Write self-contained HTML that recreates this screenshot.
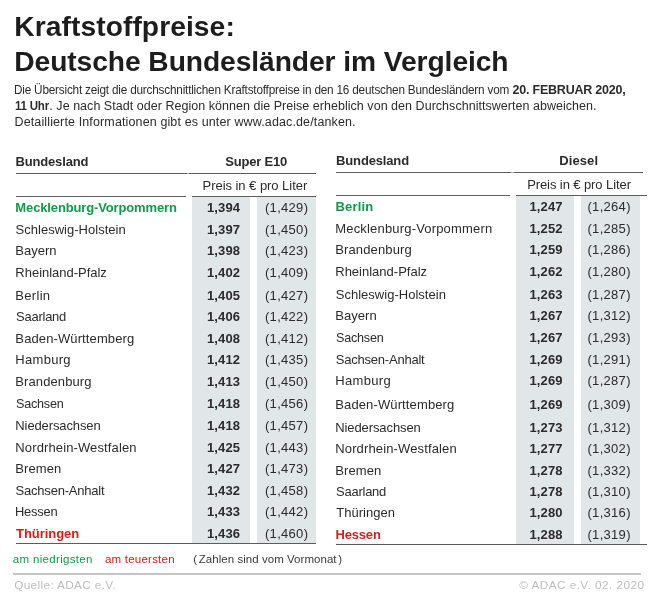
<!DOCTYPE html><html><head><meta charset="utf-8"><title>Kraftstoffpreise</title><style>
html,body{margin:0;padding:0;background:#fff}
body{width:650px;height:596px;position:relative;overflow:hidden;font-family:"Liberation Sans",sans-serif;will-change:transform}
s{position:absolute;white-space:nowrap;line-height:20px;text-decoration:none;display:block}
i{position:absolute;display:block}
b{font-weight:700}
</style></head><body>
<i style="left:16px;top:173px;width:171px;height:1px;background:#5c5c5c"></i>
<i style="left:189px;top:173px;width:127px;height:1px;background:#5c5c5c"></i>
<i style="left:187px;top:173px;width:2px;height:1px;background:#b0b0b0"></i>
<i style="left:16px;top:196px;width:169.5px;height:1px;background:#5c5c5c"></i>
<i style="left:192px;top:196px;width:124px;height:1px;background:#5c5c5c"></i>
<i style="left:192px;top:197px;width:57.7px;height:346px;background:#e1e6e9"></i>
<i style="left:256.9px;top:197px;width:59.1px;height:346px;background:#e1e6e9"></i>
<i style="left:15.5px;top:542.8px;width:300px;height:1.4px;background:#5c5c5c"></i>
<i style="left:336px;top:172px;width:175px;height:1px;background:#5c5c5c"></i>
<i style="left:513.5px;top:172px;width:129px;height:1px;background:#5c5c5c"></i>
<i style="left:511px;top:172px;width:2.5px;height:1px;background:#b0b0b0"></i>
<i style="left:336px;top:195px;width:174px;height:1px;background:#5c5c5c"></i>
<i style="left:515.6px;top:195px;width:131px;height:1px;background:#5c5c5c"></i>
<i style="left:515.5px;top:196px;width:58.4px;height:348px;background:#e1e6e9"></i>
<i style="left:580.8px;top:196px;width:59.2px;height:348px;background:#e1e6e9"></i>
<i style="left:336px;top:543.8px;width:310.5px;height:1.4px;background:#5c5c5c"></i>
<i style="left:13.2px;top:573.0px;width:627.6px;height:2.2px;background:#c4c4c4"></i>
<s id="t1" style="top:16.00px;font-size:28.2px;color:#1d1d1d;font-weight:700;letter-spacing:0.078px;left:14.25px;">Kraftstoffpreise:</s>
<s id="t2" style="top:51.00px;font-size:28.2px;color:#1d1d1d;font-weight:700;letter-spacing:-0.068px;left:14.25px;">Deutsche Bundesländer im Vergleich</s>
<s id="p1a" style="top:80.00px;font-size:12.5px;color:#2b2b2b;transform:scaleX(0.9426);transform-origin:0 0;letter-spacing:-0.220px;left:14.00px;">Die Übersicht zeigt die durchschnittlichen Kraftstoffpreise in den 16 deutschen Bundesländern vom</s>
<s id="p1b" style="top:80.00px;font-size:12.5px;color:#2b2b2b;font-weight:700;letter-spacing:-0.220px;left:512.55px;">20. FEBRUAR 2020,</s>
<s id="p2a" style="top:96.00px;font-size:12.5px;color:#2b2b2b;transform:scaleX(0.9209);transform-origin:0 0;font-weight:700;letter-spacing:-0.220px;left:14.65px;">11 Uhr</s>
<s id="p2b" style="top:96.00px;font-size:12.5px;color:#2b2b2b;letter-spacing:0.033px;left:49.35px;">. Je nach Stadt oder Region können die Preise erheblich von den Durchschnittswerten abweichen.</s>
<s id="p3" style="top:112.00px;font-size:12.5px;color:#2b2b2b;letter-spacing:0.128px;left:14.50px;">Detaillierte Informationen gibt es unter www.adac.de/tanken.</s>
<s id="hl1" style="top:152.00px;font-size:13px;color:#2b2b2b;font-weight:700;letter-spacing:-0.145px;left:15.40px;">Bundesland</s>
<s id="hl2" style="top:152.00px;font-size:13px;color:#2b2b2b;font-weight:700;letter-spacing:-0.220px;left:225.30px;">Super E10</s>
<s id="hl3" style="top:176.00px;font-size:13px;color:#2b2b2b;letter-spacing:-0.043px;left:202.55px;">Preis in € pro Liter</s>
<s id="hr1" style="top:151.00px;font-size:13px;color:#2b2b2b;font-weight:700;letter-spacing:-0.155px;left:336.10px;">Bundesland</s>
<s id="hr2" style="top:151.00px;font-size:13px;color:#2b2b2b;font-weight:700;letter-spacing:0.090px;left:559.30px;">Diesel</s>
<s id="hr3" style="top:175.00px;font-size:13px;color:#2b2b2b;letter-spacing:-0.088px;left:527.15px;">Preis in € pro Liter</s>
<s id="Ln0" style="top:198.00px;font-size:13px;color:#15964a;font-weight:700;letter-spacing:-0.137px;left:15.35px;">Mecklenburg-Vorpommern</s>
<s id="La0" style="top:198.00px;font-size:13px;color:#2b2b2b;font-weight:700;letter-spacing:0.100px;left:173.55px;width:100px;text-align:center;">1,394</s>
<s id="Lb0" style="top:198.00px;font-size:13px;color:#2b2b2b;letter-spacing:0.300px;left:236.65px;width:100px;text-align:center;">(1,429)</s>
<s id="Ln1" style="top:220.00px;font-size:13px;color:#2b2b2b;letter-spacing:0.017px;left:15.60px;">Schleswig-Holstein</s>
<s id="La1" style="top:220.00px;font-size:13px;color:#2b2b2b;font-weight:700;letter-spacing:0.100px;left:173.55px;width:100px;text-align:center;">1,397</s>
<s id="Lb1" style="top:220.00px;font-size:13px;color:#2b2b2b;letter-spacing:0.300px;left:236.65px;width:100px;text-align:center;">(1,450)</s>
<s id="Ln2" style="top:241.00px;font-size:13px;color:#2b2b2b;left:15.35px;">Bayern</s>
<s id="La2" style="top:241.00px;font-size:13px;color:#2b2b2b;font-weight:700;letter-spacing:0.100px;left:173.55px;width:100px;text-align:center;">1,398</s>
<s id="Lb2" style="top:241.00px;font-size:13px;color:#2b2b2b;letter-spacing:0.300px;left:236.65px;width:100px;text-align:center;">(1,423)</s>
<s id="Ln3" style="top:263.00px;font-size:13px;color:#2b2b2b;letter-spacing:-0.018px;left:15.35px;">Rheinland-Pfalz</s>
<s id="La3" style="top:263.00px;font-size:13px;color:#2b2b2b;font-weight:700;letter-spacing:0.100px;left:173.55px;width:100px;text-align:center;">1,402</s>
<s id="Lb3" style="top:263.00px;font-size:13px;color:#2b2b2b;letter-spacing:0.300px;left:236.65px;width:100px;text-align:center;">(1,409)</s>
<s id="Ln4" style="top:286.00px;font-size:13px;color:#2b2b2b;letter-spacing:0.300px;left:15.35px;">Berlin</s>
<s id="La4" style="top:286.00px;font-size:13px;color:#2b2b2b;font-weight:700;letter-spacing:0.100px;left:173.55px;width:100px;text-align:center;">1,405</s>
<s id="Lb4" style="top:286.00px;font-size:13px;color:#2b2b2b;letter-spacing:0.300px;left:236.65px;width:100px;text-align:center;">(1,427)</s>
<s id="Ln5" style="top:307.00px;font-size:13px;color:#2b2b2b;transform:scaleX(0.9958);transform-origin:0 0;letter-spacing:-0.220px;left:15.60px;">Saarland</s>
<s id="La5" style="top:307.00px;font-size:13px;color:#2b2b2b;font-weight:700;letter-spacing:0.100px;left:173.55px;width:100px;text-align:center;">1,406</s>
<s id="Lb5" style="top:307.00px;font-size:13px;color:#2b2b2b;letter-spacing:0.300px;left:236.65px;width:100px;text-align:center;">(1,422)</s>
<s id="Ln6" style="top:329.00px;font-size:13px;color:#2b2b2b;letter-spacing:0.111px;left:15.35px;">Baden-Württemberg</s>
<s id="La6" style="top:329.00px;font-size:13px;color:#2b2b2b;font-weight:700;letter-spacing:0.100px;left:173.55px;width:100px;text-align:center;">1,408</s>
<s id="Lb6" style="top:329.00px;font-size:13px;color:#2b2b2b;letter-spacing:0.300px;left:236.65px;width:100px;text-align:center;">(1,412)</s>
<s id="Ln7" style="top:350.00px;font-size:13px;color:#2b2b2b;letter-spacing:0.282px;left:15.35px;">Hamburg</s>
<s id="La7" style="top:350.00px;font-size:13px;color:#2b2b2b;font-weight:700;letter-spacing:0.100px;left:173.55px;width:100px;text-align:center;">1,412</s>
<s id="Lb7" style="top:350.00px;font-size:13px;color:#2b2b2b;letter-spacing:0.300px;left:236.65px;width:100px;text-align:center;">(1,435)</s>
<s id="Ln8" style="top:372.00px;font-size:13px;color:#2b2b2b;letter-spacing:0.100px;left:15.35px;">Brandenburg</s>
<s id="La8" style="top:372.00px;font-size:13px;color:#2b2b2b;font-weight:700;letter-spacing:0.100px;left:173.55px;width:100px;text-align:center;">1,413</s>
<s id="Lb8" style="top:372.00px;font-size:13px;color:#2b2b2b;letter-spacing:0.300px;left:236.65px;width:100px;text-align:center;">(1,450)</s>
<s id="Ln9" style="top:394.00px;font-size:13px;color:#2b2b2b;transform:scaleX(0.9679);transform-origin:0 0;letter-spacing:-0.220px;left:15.60px;">Sachsen</s>
<s id="La9" style="top:394.00px;font-size:13px;color:#2b2b2b;font-weight:700;letter-spacing:0.100px;left:173.55px;width:100px;text-align:center;">1,418</s>
<s id="Lb9" style="top:394.00px;font-size:13px;color:#2b2b2b;letter-spacing:0.300px;left:236.65px;width:100px;text-align:center;">(1,456)</s>
<s id="Ln10" style="top:416.00px;font-size:13px;color:#2b2b2b;letter-spacing:-0.117px;left:15.35px;">Niedersachsen</s>
<s id="La10" style="top:416.00px;font-size:13px;color:#2b2b2b;font-weight:700;letter-spacing:0.100px;left:173.55px;width:100px;text-align:center;">1,418</s>
<s id="Lb10" style="top:416.00px;font-size:13px;color:#2b2b2b;letter-spacing:0.300px;left:236.65px;width:100px;text-align:center;">(1,457)</s>
<s id="Ln11" style="top:438.00px;font-size:13px;color:#2b2b2b;letter-spacing:0.121px;left:15.35px;">Nordrhein-Westfalen</s>
<s id="La11" style="top:438.00px;font-size:13px;color:#2b2b2b;font-weight:700;letter-spacing:0.100px;left:173.55px;width:100px;text-align:center;">1,425</s>
<s id="Lb11" style="top:438.00px;font-size:13px;color:#2b2b2b;letter-spacing:0.300px;left:236.65px;width:100px;text-align:center;">(1,443)</s>
<s id="Ln12" style="top:459.00px;font-size:13px;color:#2b2b2b;letter-spacing:0.060px;left:15.35px;">Bremen</s>
<s id="La12" style="top:459.00px;font-size:13px;color:#2b2b2b;font-weight:700;letter-spacing:0.100px;left:173.55px;width:100px;text-align:center;">1,427</s>
<s id="Lb12" style="top:459.00px;font-size:13px;color:#2b2b2b;letter-spacing:0.300px;left:236.65px;width:100px;text-align:center;">(1,473)</s>
<s id="Ln13" style="top:481.00px;font-size:13px;color:#2b2b2b;letter-spacing:-0.216px;left:15.60px;">Sachsen-Anhalt</s>
<s id="La13" style="top:481.00px;font-size:13px;color:#2b2b2b;font-weight:700;letter-spacing:0.100px;left:173.55px;width:100px;text-align:center;">1,432</s>
<s id="Lb13" style="top:481.00px;font-size:13px;color:#2b2b2b;letter-spacing:0.300px;left:236.65px;width:100px;text-align:center;">(1,458)</s>
<s id="Ln14" style="top:502.00px;font-size:13px;color:#2b2b2b;transform:scaleX(0.9939);transform-origin:0 0;letter-spacing:-0.220px;left:14.85px;">Hessen</s>
<s id="La14" style="top:502.00px;font-size:13px;color:#2b2b2b;font-weight:700;letter-spacing:0.100px;left:173.55px;width:100px;text-align:center;">1,433</s>
<s id="Lb14" style="top:502.00px;font-size:13px;color:#2b2b2b;letter-spacing:0.300px;left:236.65px;width:100px;text-align:center;">(1,442)</s>
<s id="Ln15" style="top:524.00px;font-size:13px;color:#d0211c;font-weight:700;letter-spacing:-0.062px;left:16.10px;">Thüringen</s>
<s id="La15" style="top:524.00px;font-size:13px;color:#2b2b2b;font-weight:700;letter-spacing:0.100px;left:173.55px;width:100px;text-align:center;">1,436</s>
<s id="Lb15" style="top:524.00px;font-size:13px;color:#2b2b2b;letter-spacing:0.300px;left:236.65px;width:100px;text-align:center;">(1,460)</s>
<s id="Rn0" style="top:197.00px;font-size:13px;color:#15964a;font-weight:700;letter-spacing:0.150px;left:335.50px;">Berlin</s>
<s id="Ra0" style="top:197.00px;font-size:13px;color:#2b2b2b;font-weight:700;letter-spacing:0.100px;left:496.05px;width:100px;text-align:center;">1,247</s>
<s id="Rb0" style="top:197.00px;font-size:13px;color:#2b2b2b;letter-spacing:0.300px;left:559.15px;width:100px;text-align:center;">(1,264)</s>
<s id="Rn1" style="top:219.00px;font-size:13px;color:#2b2b2b;letter-spacing:0.179px;left:335.25px;">Mecklenburg-Vorpommern</s>
<s id="Ra1" style="top:219.00px;font-size:13px;color:#2b2b2b;font-weight:700;letter-spacing:0.100px;left:496.05px;width:100px;text-align:center;">1,252</s>
<s id="Rb1" style="top:219.00px;font-size:13px;color:#2b2b2b;letter-spacing:0.300px;left:559.15px;width:100px;text-align:center;">(1,285)</s>
<s id="Rn2" style="top:240.00px;font-size:13px;color:#2b2b2b;letter-spacing:0.125px;left:335.25px;">Brandenburg</s>
<s id="Ra2" style="top:240.00px;font-size:13px;color:#2b2b2b;font-weight:700;letter-spacing:0.100px;left:496.05px;width:100px;text-align:center;">1,259</s>
<s id="Rb2" style="top:240.00px;font-size:13px;color:#2b2b2b;letter-spacing:0.300px;left:559.15px;width:100px;text-align:center;">(1,286)</s>
<s id="Rn3" style="top:262.00px;font-size:13px;color:#2b2b2b;letter-spacing:0.001px;left:335.25px;">Rheinland-Pfalz</s>
<s id="Ra3" style="top:262.00px;font-size:13px;color:#2b2b2b;font-weight:700;letter-spacing:0.100px;left:496.05px;width:100px;text-align:center;">1,262</s>
<s id="Rb3" style="top:262.00px;font-size:13px;color:#2b2b2b;letter-spacing:0.300px;left:559.15px;width:100px;text-align:center;">(1,280)</s>
<s id="Rn4" style="top:285.00px;font-size:13px;color:#2b2b2b;letter-spacing:0.017px;left:335.75px;">Schleswig-Holstein</s>
<s id="Ra4" style="top:285.00px;font-size:13px;color:#2b2b2b;font-weight:700;letter-spacing:0.100px;left:496.05px;width:100px;text-align:center;">1,263</s>
<s id="Rb4" style="top:285.00px;font-size:13px;color:#2b2b2b;letter-spacing:0.300px;left:559.15px;width:100px;text-align:center;">(1,287)</s>
<s id="Rn5" style="top:306.00px;font-size:13px;color:#2b2b2b;letter-spacing:0.050px;left:335.25px;">Bayern</s>
<s id="Ra5" style="top:306.00px;font-size:13px;color:#2b2b2b;font-weight:700;letter-spacing:0.100px;left:496.05px;width:100px;text-align:center;">1,267</s>
<s id="Rb5" style="top:306.00px;font-size:13px;color:#2b2b2b;letter-spacing:0.300px;left:559.15px;width:100px;text-align:center;">(1,312)</s>
<s id="Rn6" style="top:328.00px;font-size:13px;color:#2b2b2b;transform:scaleX(0.9679);transform-origin:0 0;letter-spacing:-0.220px;left:335.50px;">Sachsen</s>
<s id="Ra6" style="top:328.00px;font-size:13px;color:#2b2b2b;font-weight:700;letter-spacing:0.100px;left:496.05px;width:100px;text-align:center;">1,267</s>
<s id="Rb6" style="top:328.00px;font-size:13px;color:#2b2b2b;letter-spacing:0.300px;left:559.15px;width:100px;text-align:center;">(1,293)</s>
<s id="Rn7" style="top:350.00px;font-size:13px;color:#2b2b2b;letter-spacing:-0.216px;left:335.75px;">Sachsen-Anhalt</s>
<s id="Ra7" style="top:350.00px;font-size:13px;color:#2b2b2b;font-weight:700;letter-spacing:0.100px;left:496.05px;width:100px;text-align:center;">1,269</s>
<s id="Rb7" style="top:350.00px;font-size:13px;color:#2b2b2b;letter-spacing:0.300px;left:559.15px;width:100px;text-align:center;">(1,291)</s>
<s id="Rn8" style="top:371.00px;font-size:13px;color:#2b2b2b;letter-spacing:0.325px;left:335.25px;">Hamburg</s>
<s id="Ra8" style="top:371.00px;font-size:13px;color:#2b2b2b;font-weight:700;letter-spacing:0.100px;left:496.05px;width:100px;text-align:center;">1,269</s>
<s id="Rb8" style="top:371.00px;font-size:13px;color:#2b2b2b;letter-spacing:0.300px;left:559.15px;width:100px;text-align:center;">(1,287)</s>
<s id="Rn9" style="top:395.00px;font-size:13px;color:#2b2b2b;letter-spacing:0.125px;left:335.25px;">Baden-Württemberg</s>
<s id="Ra9" style="top:395.00px;font-size:13px;color:#2b2b2b;font-weight:700;letter-spacing:0.100px;left:496.05px;width:100px;text-align:center;">1,269</s>
<s id="Rb9" style="top:395.00px;font-size:13px;color:#2b2b2b;letter-spacing:0.300px;left:559.15px;width:100px;text-align:center;">(1,309)</s>
<s id="Rn10" style="top:418.00px;font-size:13px;color:#2b2b2b;letter-spacing:-0.096px;left:335.25px;">Niedersachsen</s>
<s id="Ra10" style="top:418.00px;font-size:13px;color:#2b2b2b;font-weight:700;letter-spacing:0.100px;left:496.05px;width:100px;text-align:center;">1,273</s>
<s id="Rb10" style="top:418.00px;font-size:13px;color:#2b2b2b;letter-spacing:0.300px;left:559.15px;width:100px;text-align:center;">(1,312)</s>
<s id="Rn11" style="top:439.00px;font-size:13px;color:#2b2b2b;letter-spacing:0.135px;left:335.25px;">Nordrhein-Westfalen</s>
<s id="Ra11" style="top:439.00px;font-size:13px;color:#2b2b2b;font-weight:700;letter-spacing:0.100px;left:496.05px;width:100px;text-align:center;">1,277</s>
<s id="Rb11" style="top:439.00px;font-size:13px;color:#2b2b2b;letter-spacing:0.300px;left:559.15px;width:100px;text-align:center;">(1,302)</s>
<s id="Rn12" style="top:461.00px;font-size:13px;color:#2b2b2b;letter-spacing:0.110px;left:335.25px;">Bremen</s>
<s id="Ra12" style="top:461.00px;font-size:13px;color:#2b2b2b;font-weight:700;letter-spacing:0.100px;left:496.05px;width:100px;text-align:center;">1,278</s>
<s id="Rb12" style="top:461.00px;font-size:13px;color:#2b2b2b;letter-spacing:0.300px;left:559.15px;width:100px;text-align:center;">(1,332)</s>
<s id="Rn13" style="top:482.00px;font-size:13px;color:#2b2b2b;transform:scaleX(0.9958);transform-origin:0 0;letter-spacing:-0.220px;left:335.50px;">Saarland</s>
<s id="Ra13" style="top:482.00px;font-size:13px;color:#2b2b2b;font-weight:700;letter-spacing:0.100px;left:496.05px;width:100px;text-align:center;">1,278</s>
<s id="Rb13" style="top:482.00px;font-size:13px;color:#2b2b2b;letter-spacing:0.300px;left:559.15px;width:100px;text-align:center;">(1,310)</s>
<s id="Rn14" style="top:503.00px;font-size:13px;color:#2b2b2b;letter-spacing:0.023px;left:336.25px;">Thüringen</s>
<s id="Ra14" style="top:503.00px;font-size:13px;color:#2b2b2b;font-weight:700;letter-spacing:0.100px;left:496.05px;width:100px;text-align:center;">1,280</s>
<s id="Rb14" style="top:503.00px;font-size:13px;color:#2b2b2b;letter-spacing:0.300px;left:559.15px;width:100px;text-align:center;">(1,316)</s>
<s id="Rn15" style="top:525.00px;font-size:13px;color:#d0211c;font-weight:700;letter-spacing:-0.177px;left:335.50px;">Hessen</s>
<s id="Ra15" style="top:525.00px;font-size:13px;color:#2b2b2b;font-weight:700;letter-spacing:0.100px;left:496.05px;width:100px;text-align:center;">1,288</s>
<s id="Rb15" style="top:525.00px;font-size:13px;color:#2b2b2b;letter-spacing:0.300px;left:559.15px;width:100px;text-align:center;">(1,319)</s>
<s id="g1" style="top:549.00px;font-size:11.5px;color:#15964a;letter-spacing:0.326px;left:12.80px;">am niedrigsten</s>
<s id="g2" style="top:549.00px;font-size:11.5px;color:#d0211c;letter-spacing:0.219px;left:105.00px;">am teuersten</s>
<s id="g3" style="top:549.00px;font-size:11.5px;color:#3a3a3a;letter-spacing:0.044px;left:193.20px;">(<span style="margin:0 1.7px">Zahlen sind vom Vormonat</span>)</s>
<s id="f1" style="top:575.00px;font-size:11.8px;color:#bdbdbd;letter-spacing:0.350px;left:14.20px;">Quelle: ADAC e.V.</s>
<s id="f2" style="top:575.00px;font-size:11.8px;color:#bdbdbd;letter-spacing:0.434px;left:519.25px;">© ADAC e.V. 02. 2020</s>
</body></html>
